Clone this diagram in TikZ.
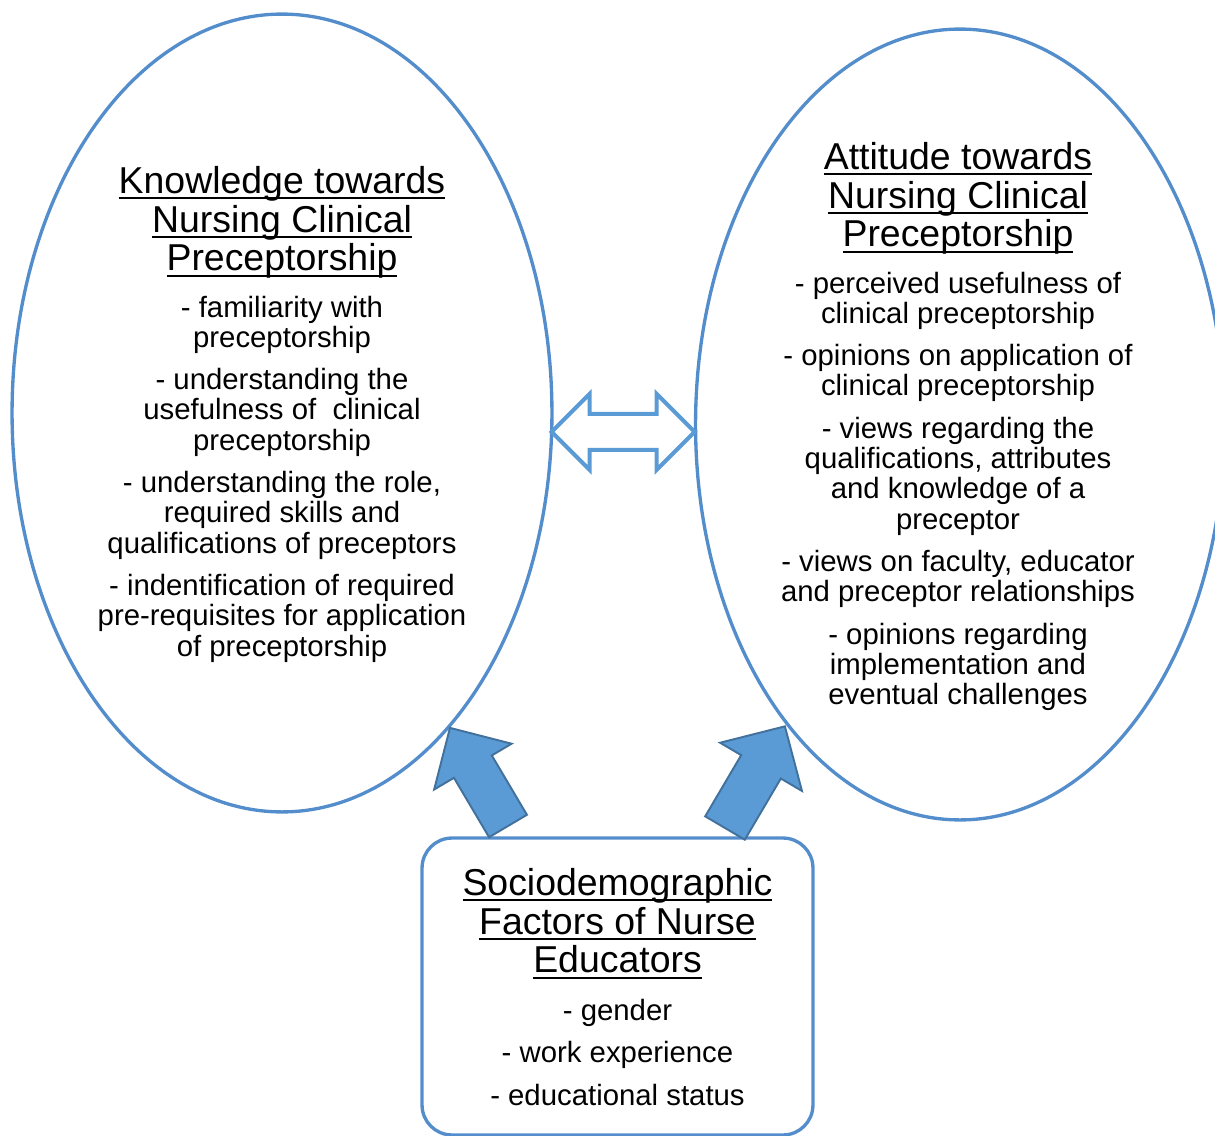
\documentclass[tikz,border=0pt]{standalone}
\usepackage{fontspec}
\setmainfont{Liberation Sans}
\usetikzlibrary{shapes.geometric,positioning}
\definecolor{ringblue}{RGB}{84,141,204}
\definecolor{fillblue}{RGB}{91,155,213}
\definecolor{edgeblue}{RGB}{65,113,156}
\newsavebox{\ttlbox}
\newcommand{\ttline}[1]{\sbox{\ttlbox}{#1}\rlap{\rule[-3.3pt]{\wd\ttlbox}{1.1pt}}\usebox{\ttlbox}}

\begin{document}
\begin{tikzpicture}[x=0.02cm,y=-0.02cm,
    bubble/.style={draw=ringblue,line width=1.9pt,ellipse,inner sep=0pt,outer sep=0pt},
    headtext/.style={align=center,inner sep=0pt,font=\fontsize{21.3pt}{22pt}\selectfont},
    listtext/.style={align=center,inner sep=0pt,font=\fontsize{16.7pt}{17.2pt}\selectfont},
    fatarrow/.style={fill=fillblue,draw=edgeblue,line width=1.1pt,line join=miter},
    twinarrow/.style={draw=fillblue,line width=2.3pt,fill=white}]
  \useasboundingbox (0,0) rectangle (1215,1136);

  % the two ellipses
  \node[bubble,minimum width=10.8cm,minimum height=15.96cm] (kn) at (282,413) {};
  \node[bubble,minimum width=10.58cm,minimum height=15.82cm] (at) at (960,424.5) {};

  % knowledge
  \node[headtext,anchor=north] (kntitle) at (282,166)
    {\ttline{Knowledge towards}\\ \ttline{Nursing Clinical}\\ \ttline{Preceptorship}};
  \node[listtext,below=0.33cm of kntitle] (knlist)
    {- familiarity with\\ preceptorship\\[7pt]
     - understanding the\\ usefulness of\ \ clinical\\ preceptorship\\[7pt]
     - understanding the role,\\ required skills and\\ qualifications of preceptors\\[7pt]
     - indentification of required\\ pre-requisites for application\\ of preceptorship};

  % attitude
  \node[headtext,anchor=north] (attitle) at (958,142)
    {\ttline{Attitude towards}\\ \ttline{Nursing Clinical}\\ \ttline{Preceptorship}};
  \node[listtext,below=0.33cm of attitle] (atlist)
    {- perceived usefulness of\\ clinical preceptorship\\[7pt]
     - opinions on application of\\ clinical preceptorship\\[7pt]
     - views regarding the\\ qualifications, attributes\\ and knowledge of a\\ preceptor\\[7pt]
     - views on faculty, educator\\ and preceptor relationships\\[7pt]
     - opinions regarding\\ implementation and\\ eventual challenges};

  % sociodemographic box
  \node[draw=ringblue,line width=1.9pt,rounded corners=0.6cm,inner sep=0pt,
        minimum width=7.82cm,minimum height=5.94cm] (sd) at (617.5,986.5) {};
  \node[headtext,anchor=north] (sdtitle) at (617.5,868)
    {\ttline{Sociodemographic}\\ \ttline{Factors of Nurse}\\ \ttline{Educators}};
  \node[listtext,below=0.39cm of sdtitle] (sdlist)
    {- gender\\[7pt] - work experience\\[7pt] - educational status};

  % double arrow between the ellipses
  \coordinate (dl) at (kn.-4.9);
  \draw[twinarrow] (dl) -- ++(38,-38) -- ++(0,20) -- ++(67,0) -- ++(0,-20) -- ++(38,38)
    -- ++(-38,38) -- ++(0,-20) -- ++(-67,0) -- ++(0,20) -- cycle;

  % block arrows from the box
  \coordinate (lt) at (508,826);
  \begin{scope}[shift={(lt)},rotate=120.6]
    \draw[fatarrow] (0,22) -- (69,22) -- (69,45) -- (114,0) -- (69,-45) -- (69,-22) -- (0,-22) -- cycle;
  \end{scope}
  \coordinate (rt) at (725,828);
  \begin{scope}[shift={(rt)},rotate=59.5]
    \draw[fatarrow] (0,23) -- (71,23) -- (71,47.5) -- (118,0) -- (71,-47.5) -- (71,-23) -- (0,-23) -- cycle;
  \end{scope}
\end{tikzpicture}
\end{document}
